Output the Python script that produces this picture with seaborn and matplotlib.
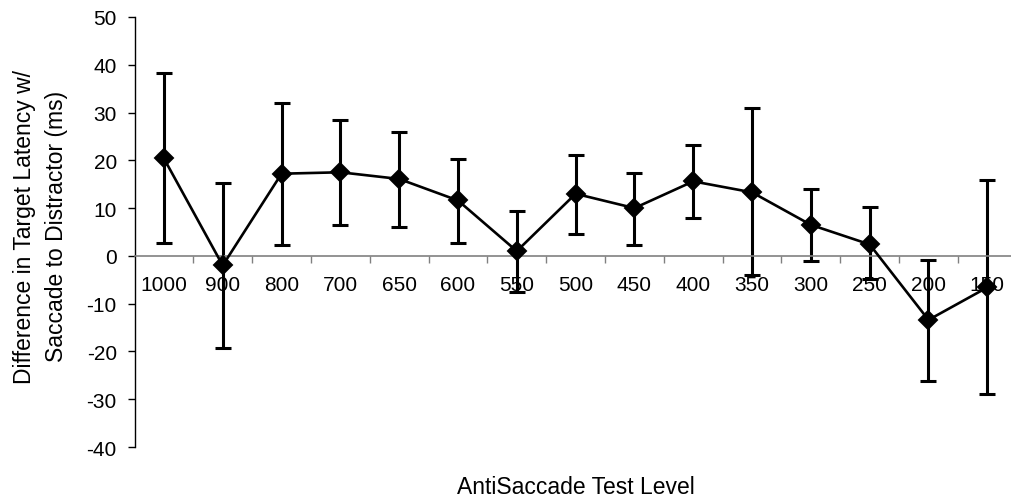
import matplotlib
matplotlib.use("Agg")
import matplotlib.pyplot as plt
import seaborn as sns
import pandas as pd
import numpy as np
from matplotlib.ticker import FixedLocator, NullFormatter

levels = ["1000", "900", "800", "700", "650", "600", "550", "500", "450",
          "400", "350", "300", "250", "200", "150"]
means = [20.4, -2.0, 17.2, 17.5, 16.1, 11.6, 1.0, 13.0, 10.0, 15.6, 13.3, 6.5, 2.4, -13.4, -6.6]
upper = [38.3, 15.3, 31.9, 28.5, 25.9, 20.2, 9.4, 21.2, 17.4, 23.2, 31.0, 14.0, 10.2, -0.8, 15.8]
lower = [2.8, -19.3, 2.2, 6.4, 6.1, 2.7, -7.5, 4.6, 2.2, 8.0, -4.1, -1.0, -4.8, -26.2, -28.9]
y_ticks = [-40, -30, -20, -10, 0, 10, 20, 30, 40, 50]

df = pd.DataFrame({"level": levels, "diff": means, "lo": lower, "hi": upper})

sns.set_theme(style="white")
plt.rcParams["font.family"] = ["Liberation Sans", "DejaVu Sans"]

W, H = 1012, 502
fig = plt.figure(figsize=(W / 100, H / 100), dpi=100)
left_px, right_px, top_px, bot_px = 134.5, 1016.7, 18, 448
ax = fig.add_axes([left_px / W, (H - bot_px) / H, (right_px - left_px) / W, (bot_px - top_px) / H])

pos = np.arange(len(levels))
ax.errorbar(pos, df["diff"], yerr=[df["diff"] - df["lo"], df["hi"] - df["diff"]],
            fmt="none", ecolor="black", elinewidth=2.2, capsize=6, capthick=2.2, zorder=2)
sns.pointplot(data=df, x="level", y="diff", order=levels, color="black", markers="D",
              linestyles="-", errorbar=None, markersize=9, linewidth=1.9, ax=ax, zorder=3)

TICK_FS = 15
LABEL_FS = 16.5

ax.set_xlim(-0.5, len(levels) - 0.5)
ax.set_ylim(-40, 50)
ax.set_yticks(y_ticks)
ax.set_yticklabels([str(t) for t in y_ticks])

ax.set_xticks(pos)
ax.set_xticklabels(levels)
ax.xaxis.set_minor_locator(FixedLocator(pos[:-1] + 0.5))
ax.xaxis.set_minor_formatter(NullFormatter())
ax.tick_params(axis="x", which="major", length=0, pad=14, colors="black", labelsize=TICK_FS)
ax.tick_params(axis="x", which="minor", length=5, width=1, color="#808080", direction="out", bottom=True)
ax.tick_params(axis="y", which="major", length=4.7, width=1, color="black", direction="out",
               left=True, pad=8, labelsize=TICK_FS, labelcolor="black")

for s in ["top", "right"]:
    ax.spines[s].set_visible(False)
ax.spines["left"].set_color("black")
ax.spines["left"].set_linewidth(1)
ax.spines["bottom"].set_position(("data", 0))
ax.spines["bottom"].set_color("#808080")
ax.spines["bottom"].set_linewidth(1.2)

ax.set_xlabel("AntiSaccade Test Level", fontsize=LABEL_FS, color="black")
ax.xaxis.set_label_coords(0.5, -0.065)
ax.xaxis.label.set_va("top")
ax.set_ylabel("Difference in Target Latency w/\nSaccade to Distractor (ms)", fontsize=LABEL_FS,
              linespacing=1.5, color="black")
ax.yaxis.set_label_coords(-0.1063, 0.515)
ax.yaxis.label.set_va("center")

fig.savefig("out.png", dpi=100)
